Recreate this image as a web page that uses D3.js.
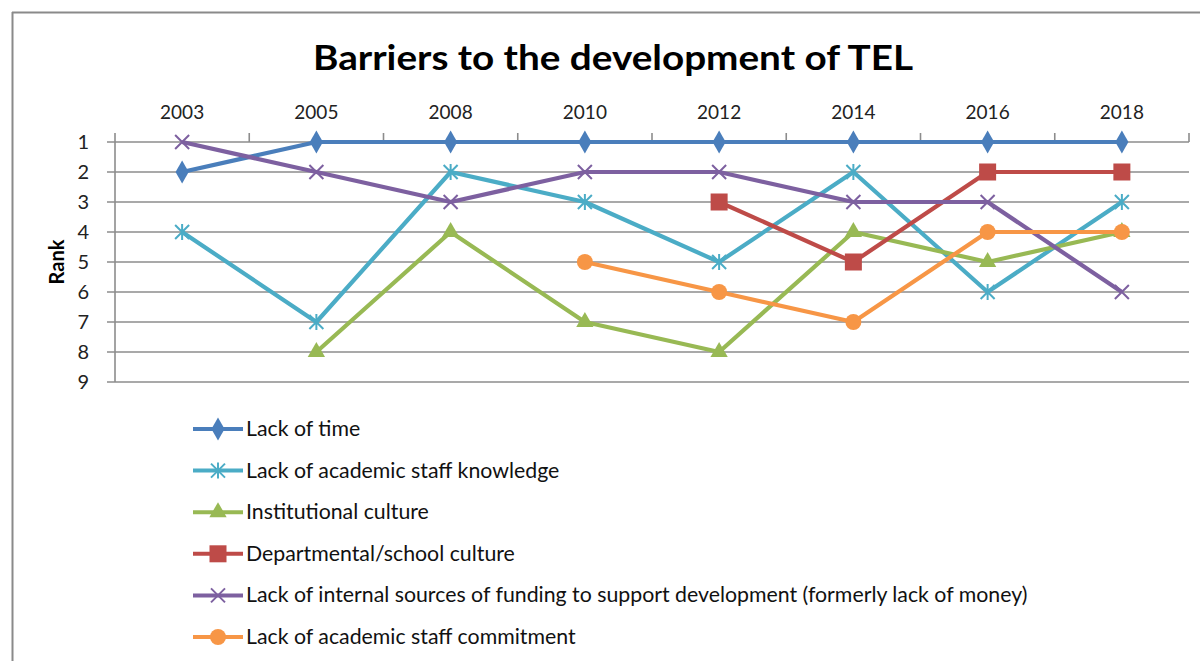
<!DOCTYPE html>
<html><head><meta charset="utf-8">
<script src="https://cdn.jsdelivr.net/npm/d3@7"></script>
<style>
html,body{margin:0;padding:0;background:#fff;}
svg{display:block;font-family:Lato,"Open Sans",sans-serif;}
</style></head>
<body>
<svg id="chart" width="1200" height="661"></svg>
<script>
const years = ["2003","2005","2008","2010","2012","2014","2016","2018"];
const seriesNames = [
  "Lack of time",
  "Lack of academic staff knowledge",
  "Institutional culture",
  "Departmental/school culture",
  "Lack of internal sources of funding to support development (formerly lack of money)",
  "Lack of academic staff commitment"
];
const lackOfTime        = [2, 1, 1, 1, 1, 1, 1, 1];
const staffKnowledge    = [4, 7, 2, 3, 5, 2, 6, 3];
const institutional     = [null, 8, 4, 7, 8, 4, 5, 4];
const departmental      = [null, null, null, null, 3, 5, 2, 2];
const funding           = [1, 2, 3, 2, 2, 3, 3, 6];
const commitment        = [null, null, null, 5, 6, 7, 4, 4];
const rankTicks = [1,2,3,4,5,6,7,8,9];
const colors  = ["#4A7EBB","#4BACC6","#98B954","#BE4B48","#7D60A0","#F79646"];
const symbols = ["diamond","asterisk","triangle","square","x","circle"];
const allValues = [lackOfTime, staffKnowledge, institutional, departmental, funding, commitment];

const svg = d3.select("#chart");

// frame (cropped: top and left visible)
svg.append("line").attr("x1",12).attr("x2",1200).attr("y1",12.5).attr("y2",12.5).attr("stroke","#8a8a8a").attr("stroke-width",2);
svg.append("line").attr("x1",12.5).attr("x2",12.5).attr("y1",12).attr("y2",661).attr("stroke","#8a8a8a").attr("stroke-width",2);

// title
svg.append("text").attr("x",613).attr("y",70).attr("text-anchor","middle")
  .attr("font-size",35).attr("font-weight","bold").attr("fill","#000")
  .attr("textLength",600).attr("lengthAdjust","spacingAndGlyphs")
  .text("Barriers to the development of TEL");

const x = d3.scaleBand().domain(years).range([115,1189]);
const y = d3.scaleLinear().domain([1,9]).range([142,382]);
const cx = d => x(d) + x.bandwidth()/2;

// gridlines
svg.append("g").selectAll("line").data(rankTicks).join("line")
  .attr("x1",107).attr("x2",1189).attr("y1",d=>y(d)).attr("y2",d=>y(d))
  .attr("stroke","#8c8c8c").attr("stroke-width",1.6);

// left axis line
svg.append("line").attr("x1",115).attr("x2",115).attr("y1",y(1)).attr("y2",y(9)).attr("stroke","#8c8c8c").attr("stroke-width",1.6);

// top axis with ticks at category boundaries
const topAxis = d3.axisTop(x).tickSize(0).tickPadding(0);
const gTop = svg.append("g").attr("transform",`translate(0,${y(1)})`).call(topAxis);
gTop.select(".domain").remove();
gTop.selectAll("text").attr("y",-23).attr("font-size",19).attr("fill","#222").attr("font-family","Lato,'Open Sans',sans-serif");
const boundaries = years.map(d=>x(d)).concat([x.range()[1]]);
svg.append("g").selectAll("line").data(boundaries).join("line")
  .attr("x1",d=>d).attr("x2",d=>d).attr("y1",y(1)).attr("y2",y(1)-9)
  .attr("stroke","#8c8c8c").attr("stroke-width",1.6);

// left axis labels
const leftAxis = d3.axisLeft(y).tickValues(rankTicks).tickSize(0).tickFormat(d3.format("d"));
const gLeft = svg.append("g").attr("transform","translate(115,0)").call(leftAxis);
gLeft.select(".domain").remove();
gLeft.selectAll("text").attr("x",-26).attr("font-size",20).attr("fill","#222").attr("font-family","Lato,'Open Sans',sans-serif");

// y title
svg.append("text").attr("transform","translate(64,262) rotate(-90)").attr("text-anchor","middle")
  .attr("font-size",20).attr("font-weight","bold").attr("fill","#000").text("Rank");

function drawSymbol(g, type, color, px, py){
  if(type==="diamond"){
    g.append("path").attr("d",d3.symbol(d3.symbolDiamond, 150)()).attr("transform",`translate(${px},${py})`).attr("fill",color);
  } else if(type==="square"){
    g.append("rect").attr("x",px-8.5).attr("y",py-8.5).attr("width",17).attr("height",17).attr("fill",color);
  } else if(type==="triangle"){
    g.append("path").attr("d",d3.symbol(d3.symbolTriangle, 130)()).attr("transform",`translate(${px},${py})`).attr("fill",color);
  } else if(type==="circle"){
    g.append("circle").attr("cx",px).attr("cy",py).attr("r",8).attr("fill",color);
  } else if(type==="x"){
    g.append("path").attr("d",`M${px-7},${py-7}L${px+7},${py+7}M${px-7},${py+7}L${px+7},${py-7}`).attr("stroke",color).attr("stroke-width",2);
  } else if(type==="asterisk"){
    g.append("path").attr("d",`M${px-7},${py-7}L${px+7},${py+7}M${px-7},${py+7}L${px+7},${py-7}M${px},${py-8}L${px},${py+8}`).attr("stroke",color).attr("stroke-width",2);
  }
}

// series
seriesNames.forEach((name,i)=>{
  const vals = allValues[i];
  const data = years.map((yr,j)=>({yr, v: vals[j]}));
  const line = d3.line().defined(d=>d.v!==null).x(d=>cx(d.yr)).y(d=>y(d.v));
  const g = svg.append("g");
  g.append("path").datum(data).attr("d",line).attr("fill","none")
    .attr("stroke",colors[i]).attr("stroke-width",4.2).attr("stroke-linejoin","round");
  data.filter(d=>d.v!==null).forEach(d=>drawSymbol(g, symbols[i], colors[i], cx(d.yr), y(d.v)));
});

// legend
const legendY0 = 429, legendStep = 41.6;
seriesNames.forEach((name,i)=>{
  const ly = legendY0 + i*legendStep;
  const g = svg.append("g");
  g.append("line").attr("x1",193).attr("x2",243).attr("y1",ly).attr("y2",ly).attr("stroke",colors[i]).attr("stroke-width",4);
  drawSymbol(g, symbols[i], colors[i], 218, ly);
  g.append("text").attr("x",246).attr("y",ly+7).attr("font-size",21.3).attr("fill","#111").text(name);
});
</script>
</body></html>
